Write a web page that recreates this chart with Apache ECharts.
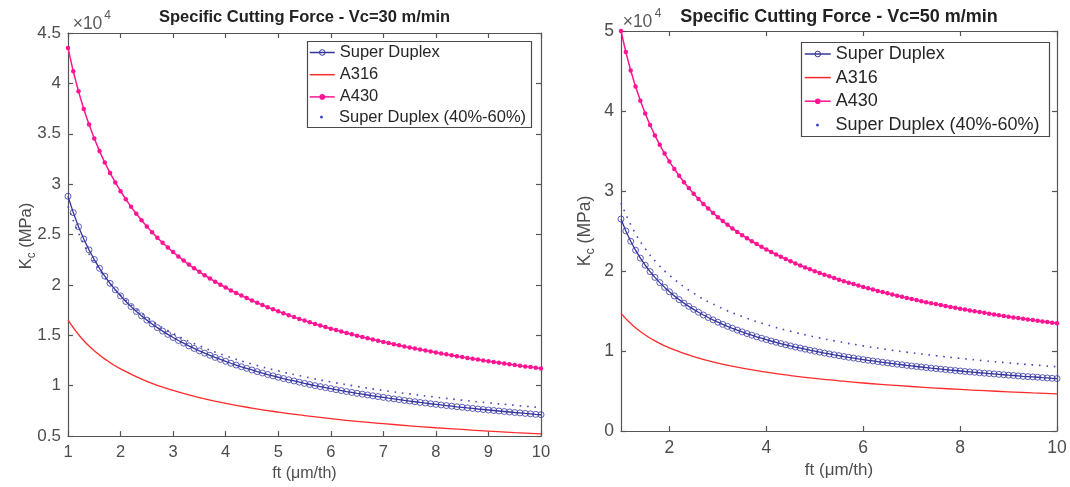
<!DOCTYPE html>
<html>
<head>
<meta charset="utf-8">
<script src="https://cdn.jsdelivr.net/npm/echarts@6/dist/echarts.min.js"></script>
<style>
  html, body { margin: 0; padding: 0; background: #fff; }
  #chart { width: 1070px; height: 487px; }
</style>
</head>
<body>
<div id="chart"></div>
<script>
// ---------------- DATA (Kc in units of 1e4 MPa) ----------------
const FT = [1,1.1,1.2,1.3,1.4,1.5,1.6,1.7,1.8,1.9,2,2.1,2.2,2.3,2.4,2.5,2.6,2.7,2.8,2.9,3,3.1,3.2,3.3,3.4,3.5,3.6,3.7,3.8,3.9,4,4.1,4.2,4.3,4.4,4.5,4.6,4.7,4.8,4.9,5,5.1,5.2,5.3,5.4,5.5,5.6,5.7,5.8,5.9,6,6.1,6.2,6.3,6.4,6.5,6.6,6.7,6.8,6.9,7,7.1,7.2,7.3,7.4,7.5,7.6,7.7,7.8,7.9,8,8.1,8.2,8.3,8.4,8.5,8.6,8.7,8.8,8.9,9,9.1,9.2,9.3,9.4,9.5,9.6,9.7,9.8,9.9,10];
const FT_C = [1,1.25,1.5,1.75,2,2.5,3,3.5,4,4.5,5,5.5,6,6.5,7,7.5,8,8.5,9,9.5,10];

// Vc = 30 m/min
const SD_30 = [2.880,2.718,2.578,2.456,2.348,2.252,2.165,2.087,2.016,1.951,1.891,1.836,1.785,1.737,1.693,1.651,1.613,1.576,1.542,1.509,1.478,1.449,1.422,1.395,1.370,1.346,1.323,1.302,1.281,1.261,1.242,1.223,1.205,1.188,1.172,1.156,1.140,1.126,1.111,1.098,1.084,1.071,1.059,1.047,1.035,1.023,1.012,1.001,0.991,0.981,0.971,0.961,0.952,0.942,0.933,0.924,0.916,0.908,0.900,0.892,0.884,0.876,0.869,0.862,0.854,0.848,0.841,0.834,0.828,0.821,0.815,0.809,0.803,0.797,0.791,0.786,0.780,0.775,0.769,0.764,0.759,0.754,0.749,0.744,0.739,0.734,0.730,0.725,0.721,0.716,0.712];
const A430_30 = [4.350,4.120,3.921,3.746,3.591,3.453,3.328,3.215,3.112,3.017,2.930,2.850,2.775,2.706,2.641,2.580,2.523,2.469,2.419,2.371,2.326,2.282,2.242,2.202,2.165,2.130,2.096,2.064,2.032,2.002,1.974,1.946,1.920,1.894,1.870,1.846,1.823,1.800,1.779,1.758,1.738,1.719,1.700,1.681,1.663,1.646,1.630,1.613,1.597,1.582,1.566,1.552,1.538,1.523,1.510,1.497,1.484,1.471,1.459,1.447,1.435,1.423,1.412,1.401,1.390,1.379,1.369,1.359,1.349,1.339,1.330,1.320,1.311,1.302,1.293,1.285,1.276,1.268,1.259,1.251,1.243,1.235,1.228,1.220,1.213,1.205,1.198,1.191,1.185,1.178,1.171];
const A316_30 = [1.650,1.476,1.347,1.247,1.167,1.044,0.953,0.882,0.825,0.778,0.738,0.704,0.674,0.647,0.624,0.602,0.583,0.566,0.550,0.535,0.522];
const SD4060_30 = [2.780,2.459,2.224,2.044,1.899,1.679,1.519,1.396,1.297,1.215,1.147,1.089,1.038,0.993,0.953,0.918,0.886,0.857,0.830,0.806,0.783];

// Vc = 50 m/min
const SD_50 = [2.650,2.501,2.372,2.260,2.161,2.072,1.992,1.920,1.855,1.795,1.740,1.689,1.642,1.598,1.558,1.520,1.484,1.450,1.419,1.389,1.360,1.333,1.308,1.284,1.261,1.239,1.218,1.198,1.178,1.160,1.142,1.125,1.109,1.093,1.078,1.063,1.049,1.036,1.023,1.010,0.998,0.986,0.974,0.963,0.952,0.942,0.931,0.921,0.912,0.902,0.893,0.884,0.876,0.867,0.859,0.851,0.843,0.835,0.828,0.820,0.813,0.806,0.800,0.793,0.786,0.780,0.774,0.768,0.762,0.756,0.750,0.744,0.739,0.734,0.728,0.723,0.718,0.713,0.708,0.703,0.698,0.694,0.689,0.684,0.680,0.676,0.672,0.667,0.663,0.659,0.655];
const A430_50 = [5.000,4.736,4.507,4.306,4.128,3.969,3.825,3.695,3.577,3.468,3.368,3.276,3.190,3.110,3.036,2.966,2.901,2.839,2.781,2.726,2.673,2.624,2.577,2.532,2.489,2.448,2.409,2.372,2.336,2.302,2.269,2.237,2.207,2.177,2.149,2.122,2.095,2.070,2.045,2.021,1.998,1.976,1.954,1.933,1.912,1.892,1.873,1.854,1.836,1.818,1.801,1.784,1.768,1.751,1.736,1.721,1.706,1.691,1.677,1.663,1.649,1.636,1.623,1.610,1.598,1.586,1.574,1.562,1.551,1.540,1.529,1.518,1.507,1.497,1.487,1.477,1.467,1.457,1.448,1.438,1.429,1.420,1.411,1.403,1.394,1.386,1.378,1.370,1.362,1.354,1.346];
const A316_50 = [1.470,1.315,1.200,1.111,1.039,0.930,0.849,0.786,0.735,0.693,0.657,0.627,0.600,0.577,0.556,0.537,0.520,0.504,0.490,0.477,0.465];
const SD4060_50 = [2.850,2.521,2.280,2.095,1.947,1.722,1.558,1.431,1.330,1.246,1.176,1.116,1.064,1.018,0.977,0.941,0.908,0.878,0.851,0.826,0.803];

const X_TICKS_50 = [2,4,6,8,10];
const NAMES = ['Super Duplex', 'A316', 'A430', 'Super Duplex (40%-60%)'];
const TITLES = ['Specific Cutting Force - Vc=30 m/min', 'Specific Cutting Force - Vc=50 m/min'];

// ---------------- STYLE ----------------
const FONT = '"Liberation Sans", Arial, Helvetica, sans-serif';
const AX = '#555555';
const LBL = '#4d4d4d';
const C_SD = '#34349a', C_SD_MK = 'rgba(55,55,165,0.8)';
const C_316 = '#ff2b2b', C_430 = '#ff1493', C_DOT = '#4646c4';

const pairs = (xs, ys) => xs.map((x, i) => [x, ys[i]]);

function xAx(grid, pos, fs, extra) {
  return Object.assign({
    gridIndex: grid, type: 'value', min: 1, max: 10, position: pos,
    axisLine: { show: true, onZero: false, lineStyle: { color: AX, width: 1.2 } },
    axisTick: { show: true, inside: true, length: 5, lineStyle: { color: AX, width: 1.2 } },
    axisLabel: { show: pos === 'bottom', fontSize: fs, color: LBL, fontFamily: FONT, margin: 8 },
    splitLine: { show: false }
  }, extra);
}
function yAx(grid, pos, fs, min, max, interval) {
  return {
    gridIndex: grid, type: 'value', min: min, max: max, interval: interval, position: pos,
    axisLine: { show: true, onZero: false, lineStyle: { color: AX, width: 1.2 } },
    axisTick: { show: true, inside: true, length: 5, lineStyle: { color: AX, width: 1.2 } },
    axisLabel: { show: pos === 'left', fontSize: fs, color: LBL, fontFamily: FONT, margin: 7 },
    splitLine: { show: false }
  };
}

function seriesFor(xi, yi, sd, a316, a430, dot) {
  return [
    { name: NAMES[0], type: 'line', xAxisIndex: xi, yAxisIndex: yi, data: pairs(FT, sd),
      symbol: 'circle', symbolSize: 6, showSymbol: true,
      lineStyle: { color: C_SD, width: 1.3 },
      itemStyle: { color: 'rgba(0,0,0,0)', borderColor: C_SD_MK, borderWidth: 1 }, z: 3 },
    { name: NAMES[1], type: 'line', xAxisIndex: xi, yAxisIndex: yi, data: pairs(FT_C, a316),
      smooth: true, symbol: 'none', showSymbol: false,
      lineStyle: { color: C_316, width: 1.3 }, itemStyle: { color: C_316 }, z: 2 },
    { name: NAMES[2], type: 'line', xAxisIndex: xi, yAxisIndex: yi, data: pairs(FT, a430),
      symbol: 'circle', symbolSize: 4.5, showSymbol: true,
      lineStyle: { color: C_430, width: 1.5 }, itemStyle: { color: C_430 }, z: 2 },
    { name: NAMES[3], type: 'line', xAxisIndex: xi, yAxisIndex: yi, data: pairs(FT_C, dot),
      smooth: true, symbol: 'none', showSymbol: false,
      lineStyle: { color: C_DOT, width: 1.6, type: [1.6, 5.8] }, itemStyle: { color: C_DOT }, z: 2 }
  ];
}

function legendMain(left, top, fs, gap, iw) {
  return {
    orient: 'vertical', left: left, top: top, itemWidth: iw, itemHeight: 7, itemGap: gap,
    selectedMode: false, padding: 0,
    textStyle: { fontSize: fs, lineHeight: fs, color: '#262626', fontFamily: FONT },
    lineStyle: { width: 1.5 },
    data: [
      { name: NAMES[0], itemStyle: { borderWidth: 1, borderColor: C_SD } },
      { name: NAMES[1], itemStyle: { opacity: 0 } },
      { name: NAMES[2] }
    ]
  };
}
function legendDot(left, top, fs, iw) {
  return {
    orient: 'vertical', left: left, top: top, itemWidth: iw, itemHeight: 3,
    selectedMode: false, padding: 0,
    itemStyle: { borderWidth: 0 },
    textStyle: { fontSize: fs, lineHeight: fs, color: '#262626', fontFamily: FONT },
    data: [{ name: NAMES[3], icon: 'circle' }]
  };
}

function txt(x, y, text, font, color, extra) {
  return Object.assign({
    type: 'text', x: x, y: y, silent: true,
    style: { text: text, font: font, fill: color, textAlign: 'center', textVerticalAlign: 'middle',
             align: 'center', verticalAlign: 'middle' }
  }, extra || {});
}
function ylabel(x, y, fs) {
  return {
    type: 'text', x: x, y: y, rotation: Math.PI / 2, silent: true,
    style: {
      text: '{k|K}{c|c}{k| (MPa)}', textAlign: 'center', textVerticalAlign: 'middle',
      align: 'center', verticalAlign: 'middle',
      rich: {
        k: { fontSize: fs, fontFamily: FONT, fill: LBL, color: LBL, lineHeight: fs + 6, verticalAlign: 'middle' },
        c: { fontSize: fs * 0.72, fontFamily: FONT, fill: LBL, color: LBL, lineHeight: fs * 0.72, verticalAlign: 'bottom' }
      }
    }
  };
}

const option = {
  animation: false,
  backgroundColor: '#ffffff',
  grid: [
    { left: 68, right: 529, top: 33, bottom: 49 },
    { left: 621, right: 13, top: 31, bottom: 56 }
  ],
  xAxis: [
    xAx(0, 'bottom', 16.5, { interval: 1, name: 'ft (μm/th)', nameLocation: 'middle', nameGap: 27,
      nameTextStyle: { fontSize: 16, color: LBL, fontFamily: FONT } }),
    xAx(0, 'top', 16.5, { interval: 1 }),
    xAx(1, 'bottom', 17.5, { axisTick: { show: true, inside: true, length: 5, customValues: X_TICKS_50, lineStyle: { color: AX, width: 1.2 } },
      axisLabel: { show: true, fontSize: 17.5, color: LBL, fontFamily: FONT, margin: 8, customValues: X_TICKS_50 },
      name: 'ft (μm/th)', nameLocation: 'middle', nameGap: 27,
      nameTextStyle: { fontSize: 17, color: LBL, fontFamily: FONT } }),
    xAx(1, 'top', 17.5, { axisTick: { show: true, inside: true, length: 5, customValues: X_TICKS_50, lineStyle: { color: AX, width: 1.2 } } })
  ],
  yAxis: [
    yAx(0, 'left', 17, 0.5, 4.5, 0.5),
    yAx(0, 'right', 17, 0.5, 4.5, 0.5),
    yAx(1, 'left', 17.5, 0, 5, 1),
    yAx(1, 'right', 17.5, 0, 5, 1)
  ],
  legend: [
    legendMain(309, 44, 16.5, 5.2, 25),
    legendDot(320, 108.5, 16.5, 25),
    legendMain(804, 45, 18, 5.6, 26),
    legendDot(816, 116, 18, 26)
  ],
  series: [].concat(
    seriesFor(0, 0, SD_30, A316_30, A430_30, SD4060_30),
    seriesFor(2, 2, SD_50, A316_50, A430_50, SD4060_50)
  ),
  graphic: [
    txt(304.5, 17.5, TITLES[0], 'bold 16.5px ' + FONT, '#222222'),
    txt(839, 17.5, TITLES[1], 'bold 18px ' + FONT, '#222222'),
    txt(87.5, 24, '×10', '17.5px ' + FONT, '#5a5a5a'),
    txt(107.5, 16, '4', '12px ' + FONT, '#5a5a5a'),
    txt(637.5, 22, '×10', '17.5px ' + FONT, '#5a5a5a'),
    txt(658, 13.5, '4', '12px ' + FONT, '#5a5a5a'),
    ylabel(26, 236, 16.5),
    ylabel(585, 231, 17.5),
    { type: 'rect', silent: true, z: -1, shape: { x: 307.5, y: 41.5, width: 224, height: 86 },
      style: { fill: '#ffffff', stroke: '#4a4a4a', lineWidth: 1.2 } },
    { type: 'rect', silent: true, z: -1, shape: { x: 801.5, y: 42.5, width: 248, height: 94 },
      style: { fill: '#ffffff', stroke: '#4a4a4a', lineWidth: 1.2 } }
  ]
};

const chart = echarts.init(document.getElementById('chart'), null, { renderer: 'canvas' });
chart.setOption(option);
</script>
</body>
</html>
